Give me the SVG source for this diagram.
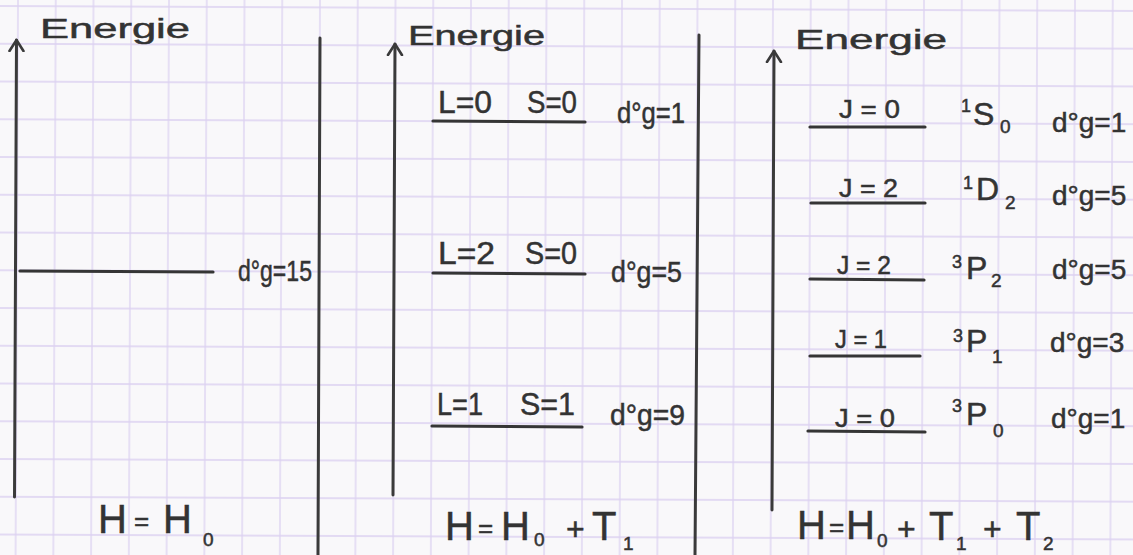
<svg xmlns="http://www.w3.org/2000/svg" width="1133" height="555" viewBox="0 0 1133 555">
<style>
text{font-family:"Liberation Sans","DejaVu Sans",Arial,sans-serif;fill:#333;stroke:#333;stroke-width:0.5;}
.en{font-size:28px;}
.ls{font-size:32px;}
.j{font-size:25px;}
.dg{font-size:30px;}
.dg3{font-size:28px;}
.term{font-size:32px;}
.sup{font-size:18px;}
.sub{font-size:19px;}
.hf{font-size:40px;}
.eq{font-size:26px;}
.pl{font-size:32px;}
.hs{font-size:19px;}
.ink{stroke:#3a3a3a;stroke-width:3;fill:none;stroke-linecap:round;}
.lvl{stroke:#353535;stroke-width:3.2;fill:none;stroke-linecap:round;}
</style>
<defs>
<pattern id="grid" patternUnits="userSpaceOnUse" x="-0.875" y="-12.875" width="37.75" height="37.75">
<path d="M18.875 0 V37.75 M0 18.875 H37.75" stroke="#dcd1f1" stroke-width="1.3" fill="none"/>
</pattern>
<marker id="ah" viewBox="0 0 14 18" refX="12" refY="9" markerWidth="14" markerHeight="18" markerUnits="userSpaceOnUse" orient="auto">
<path d="M1,2 L12,9 L1,16" fill="none" stroke="#3a3a3a" stroke-width="2.6" stroke-linecap="round" stroke-linejoin="round"/>
</marker>
</defs>
<rect width="1133" height="555" fill="#f9f8fa"/>
<rect x="-60" y="-60" width="1260" height="680" fill="url(#grid)" transform="rotate(0.25)"/>

<g id="connectors">
<path class="ink" d="M14.5,497 L16.5,40" marker-end="url(#ah)"/>
<path class="ink" d="M320,38 L318,555"/>
<path class="ink" d="M393,495 L395,44" marker-end="url(#ah)"/>
<path class="ink" d="M699,35 L695,555"/>
<path class="ink" d="M772,510 L774,51" marker-end="url(#ah)"/>
</g>

<g id="axis-label-1"><text class="en" x="40" y="38" textLength="150" lengthAdjust="spacingAndGlyphs">Energie</text></g>
<g id="axis-label-2"><text class="en" x="408" y="45" textLength="137" lengthAdjust="spacingAndGlyphs">Energie</text></g>
<g id="axis-label-3"><text class="en" x="795" y="49" textLength="152" lengthAdjust="spacingAndGlyphs">Energie</text></g>

<g id="p1-level">
<path class="lvl" d="M20,271 L213,272"/>
<text class="dg" x="238" y="281" textLength="74" lengthAdjust="spacingAndGlyphs">d°g=15</text>
</g>

<g id="p2-level-L0S0">
<path class="lvl" d="M433,121 L585,122"/>
<text class="ls" x="438" y="113" textLength="54" lengthAdjust="spacingAndGlyphs">L=0</text>
<text class="ls" x="527" y="113" textLength="50" lengthAdjust="spacingAndGlyphs">S=0</text>
<text class="dg" x="617" y="123" textLength="68" lengthAdjust="spacingAndGlyphs">d°g=1</text>
</g>
<g id="p2-level-L2S0">
<path class="lvl" d="M433,273 L585,274"/>
<text class="ls" x="438" y="264" textLength="57" lengthAdjust="spacingAndGlyphs">L=2</text>
<text class="ls" x="525" y="264" textLength="52" lengthAdjust="spacingAndGlyphs">S=0</text>
<text class="dg" x="611" y="282" textLength="71" lengthAdjust="spacingAndGlyphs">d°g=5</text>
</g>
<g id="p2-level-L1S1">
<path class="lvl" d="M432,426 L582,427"/>
<text class="ls" x="437" y="415" textLength="46" lengthAdjust="spacingAndGlyphs">L=1</text>
<text class="ls" x="520" y="415" textLength="55" lengthAdjust="spacingAndGlyphs">S=1</text>
<text class="dg" x="610" y="425" textLength="75" lengthAdjust="spacingAndGlyphs">d°g=9</text>
</g>

<g id="p3-level-1S0">
<path class="lvl" d="M810,127 L925,127"/>
<text class="j" x="839" y="118" textLength="61" lengthAdjust="spacingAndGlyphs">J = 0</text>
<text class="term"><tspan class="sup" x="961" y="112">1</tspan><tspan x="973" y="125">S</tspan><tspan class="sub" x="1000" y="133">0</tspan></text>
<text class="dg3" x="1052" y="132">d°g=1</text>
</g>
<g id="p3-level-1D2">
<path class="lvl" d="M811,203 L925,203"/>
<text class="j" x="839" y="197" textLength="59" lengthAdjust="spacingAndGlyphs">J = 2</text>
<text class="term"><tspan class="sup" x="963" y="189">1</tspan><tspan x="976" y="200">D</tspan><tspan class="sub" x="1005" y="209">2</tspan></text>
<text class="dg3" x="1052" y="205">d°g=5</text>
</g>
<g id="p3-level-3P2">
<path class="lvl" d="M810,279 L924,280"/>
<text class="j" x="837" y="274" textLength="54" lengthAdjust="spacingAndGlyphs">J = 2</text>
<text class="term"><tspan class="sup" x="952" y="268">3</tspan><tspan x="966" y="279">P</tspan><tspan class="sub" x="991" y="287">2</tspan></text>
<text class="dg3" x="1052" y="279">d°g=5</text>
</g>
<g id="p3-level-3P1">
<path class="lvl" d="M810,356 L920,356"/>
<text class="j" x="835" y="348" textLength="52" lengthAdjust="spacingAndGlyphs">J = 1</text>
<text class="term"><tspan class="sup" x="953" y="342">3</tspan><tspan x="966" y="352">P</tspan><tspan class="sub" x="992" y="363">1</tspan></text>
<text class="dg3" x="1050" y="352">d°g=3</text>
</g>
<g id="p3-level-3P0">
<path class="lvl" d="M808,431 L925,432"/>
<text class="j" x="835" y="427" textLength="60" lengthAdjust="spacingAndGlyphs">J = 0</text>
<text class="term"><tspan class="sup" x="952" y="412">3</tspan><tspan x="966" y="425">P</tspan><tspan class="sub" x="993" y="437">0</tspan></text>
<text class="dg3" x="1051" y="428">d°g=1</text>
</g>

<g id="formula-1">
<text class="hf"><tspan x="98" y="533">H</tspan><tspan class="eq" x="134" y="530">=</tspan><tspan x="163" y="533">H</tspan><tspan class="hs" x="203" y="546">0</tspan></text>
</g>
<g id="formula-2">
<text class="hf"><tspan x="445" y="540">H</tspan><tspan class="eq" x="478" y="537">=</tspan><tspan x="501" y="540">H</tspan><tspan class="hs" x="534" y="546">0</tspan><tspan class="pl" x="566" y="540">+</tspan><tspan x="592" y="540">T</tspan><tspan class="hs" x="623" y="550">1</tspan></text>
</g>
<g id="formula-3">
<text class="hf"><tspan x="797" y="539">H</tspan><tspan class="eq" x="829" y="536">=</tspan><tspan x="846" y="539">H</tspan><tspan class="hs" x="877" y="547">0</tspan><tspan class="pl" x="897" y="540">+</tspan><tspan x="929" y="540">T</tspan><tspan class="hs" x="956" y="550">1</tspan><tspan class="pl" x="983" y="540">+</tspan><tspan x="1016" y="540">T</tspan><tspan class="hs" x="1043" y="550">2</tspan></text>
</g>
</svg>
